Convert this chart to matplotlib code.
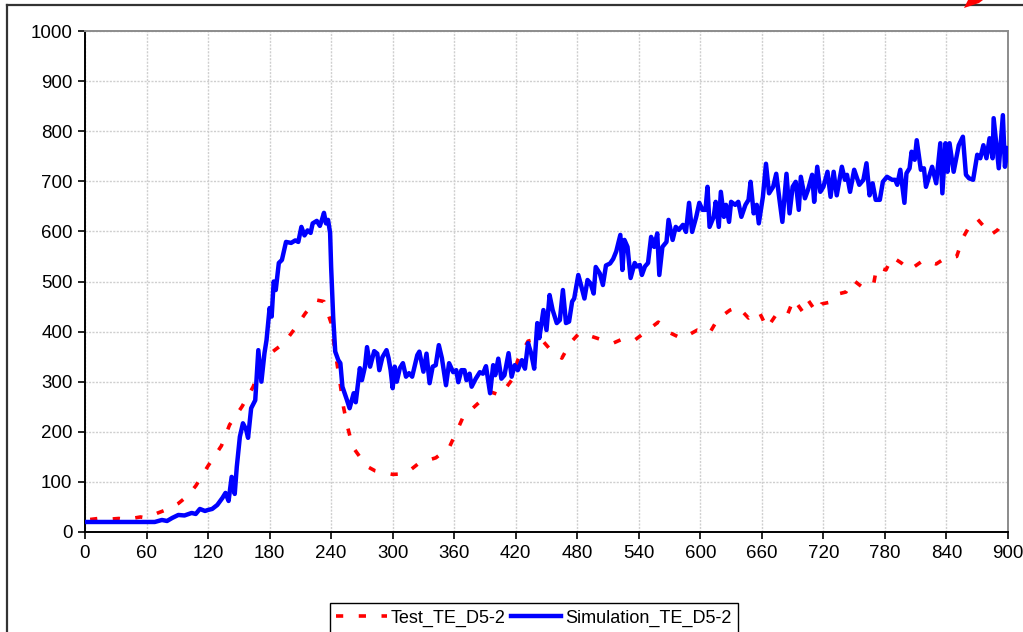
import matplotlib
matplotlib.use("Agg")
import matplotlib.pyplot as plt
from matplotlib.lines import Line2D
from matplotlib.patches import Polygon

plt.rcParams['font.family'] = ['Liberation Sans', 'DejaVu Sans']

# ---------------- data ----------------
sim_t = [0, 10, 20, 30, 40, 50, 60, 68, 75, 80, 85, 91, 97, 104, 108, 112, 117, 120, 124, 129,
         134, 137, 140, 143, 146, 148, 151, 154, 157, 159, 162, 166, 169, 172, 175, 177, 180, 182,
         184, 186, 189, 192, 196, 201, 205, 208, 211, 214, 217, 220, 222, 226, 229, 231, 233, 235,
         237, 239, 240, 242, 244, 247, 249, 251, 255, 258, 262, 264, 268, 270, 273, 275, 278, 282,
         285, 287, 290, 294, 296, 298, 300, 302, 304, 307, 310, 313, 316, 319, 324, 326, 330, 333,
         336, 339, 342, 345, 348, 352, 355, 359, 362, 364, 367, 370, 372, 375, 377, 381, 385, 388,
         391, 395, 398, 400, 403, 406, 409, 413, 416, 419, 422, 426, 429, 432, 435, 438, 441, 443,
         447, 450, 453, 456, 460, 463, 466, 469, 472, 475, 477, 481, 484, 487, 490, 493, 496, 498,
         502, 505, 508, 512, 515, 518, 522, 524, 526, 529, 532, 536, 538, 541, 543, 546, 549, 552,
         555, 558, 560, 563, 567, 569, 573, 576, 579, 583, 586, 589, 592, 596, 599, 602, 605, 607,
         609, 613, 615, 618, 620, 623, 625, 628, 630, 634, 637, 640, 644, 647, 649, 652, 655, 657,
         661, 664, 667, 671, 674, 677, 680, 684, 687, 690, 693, 696, 698, 702, 705, 709, 711, 714,
         717, 720, 724, 727, 730, 733, 738, 741, 743, 746, 750, 755, 759, 762, 765, 768, 771, 775,
         778, 782, 787, 790, 792, 795, 799, 801, 804, 806, 809, 811, 815, 818, 820, 823, 826, 830,
         834, 836, 839, 841, 843, 847, 852, 856, 859, 862, 866, 870, 873, 876, 879, 882, 885, 886,
         888, 891, 895, 897, 900]
sim_v = [20, 20, 20, 20, 20, 20, 20, 20, 24, 22, 28, 34, 33, 38, 36, 46, 42, 44, 46, 54,
         68, 78, 62, 110, 76, 130, 190, 217, 205, 188, 247, 263, 363, 300, 357, 383, 447, 430,
         500, 483, 537, 543, 579, 577, 582, 579, 609, 592, 602, 597, 616, 621, 611, 623, 637, 616,
         623, 597, 529, 429, 360, 343, 337, 290, 266, 247, 277, 259, 327, 303, 330, 369, 330, 361,
         356, 323, 349, 363, 347, 323, 287, 330, 300, 327, 337, 310, 317, 310, 353, 360, 320, 356,
         297, 330, 333, 373, 347, 293, 337, 319, 323, 299, 323, 323, 303, 316, 290, 306, 319, 316,
         331, 277, 333, 313, 346, 306, 313, 357, 310, 333, 323, 343, 326, 377, 357, 326, 417, 387,
         443, 403, 473, 443, 417, 423, 483, 417, 420, 460, 466, 513, 490, 466, 503, 496, 476, 529,
         516, 493, 532, 536, 545, 560, 593, 523, 583, 569, 507, 537, 530, 533, 513, 530, 537, 589,
         569, 596, 513, 569, 579, 623, 583, 609, 603, 613, 599, 657, 599, 629, 657, 643, 643, 689,
         609, 629, 659, 609, 679, 629, 653, 619, 659, 653, 659, 629, 653, 663, 699, 636, 653, 616,
         669, 735, 676, 689, 715, 666, 619, 715, 636, 689, 699, 643, 709, 666, 683, 713, 659, 729,
         679, 689, 719, 669, 719, 672, 729, 703, 713, 679, 723, 693, 703, 736, 672, 696, 663, 663,
         699, 709, 703, 703, 693, 723, 657, 716, 726, 759, 743, 782, 723, 726, 689, 709, 729, 696,
         776, 676, 776, 719, 776, 719, 772, 789, 713, 706, 703, 753, 746, 772, 746, 786, 746, 826,
         786, 726, 832, 729, 766]

test_t = [5, 13, 20, 33, 40, 54, 60, 71, 80, 91, 100, 108, 120, 133, 141, 153, 164, 172, 183,
          194, 205, 215, 226, 233, 240, 243, 246, 249, 252, 256, 261, 268, 274, 283, 292, 300,
          311, 318, 326, 334, 342, 355, 364, 369, 377, 385, 395, 405, 416, 422, 432, 444, 455,
          465, 473, 482, 490, 502, 515, 525, 536, 547, 559, 570, 582, 597, 609, 617, 629, 637,
          647, 657, 665, 673, 684, 691, 700, 705, 713, 718, 727, 734, 742, 749, 759, 769, 772,
          781, 787, 796, 804, 818, 830, 839, 850, 856, 862, 870, 876, 883, 890, 895, 900]
test_v = [25, 27, 25, 27, 25, 30, 28, 38, 45, 57, 72, 92, 132, 172, 214, 250, 290, 333, 360,
          377, 407, 437, 463, 460, 417, 373, 333, 293, 250, 210, 170, 150, 132, 122, 118, 115,
          116, 125, 138, 143, 148, 168, 208, 231, 245, 260, 280, 273, 303, 343, 381, 387, 361,
          347, 377, 397, 393, 385, 377, 386, 383, 400, 419, 398, 386, 403, 397, 425, 443, 449,
          427, 441, 407, 431, 429, 465, 439, 463, 439, 455, 459, 475, 479, 503, 487, 495, 529,
          523, 549, 537, 523, 543, 535, 547, 550, 587, 609, 625, 611, 593, 603, 619, 615]

x_ticks = [0, 60, 120, 180, 240, 300, 360, 420, 480, 540, 600, 660, 720, 780, 840, 900]
y_ticks = [0, 100, 200, 300, 400, 500, 600, 700, 800, 900, 1000]
series_names = ["Test_TE_D5-2", "Simulation_TE_D5-2"]

# ---------------- figure ----------------
W, H = 1023, 632
fig = plt.figure(figsize=(W / 100, H / 100), dpi=100)
fig.patch.set_facecolor('white')

# outer frame fragments
fig.add_artist(Line2D([7 / W, 1.0], [1 - 5 / H, 1 - 5 / H], color='#333333', lw=1.6,
                      transform=fig.transFigure))
fig.add_artist(Line2D([7 / W, 7 / W], [0, 1 - 5 / H], color='#333333', lw=1.6,
                      transform=fig.transFigure))
fig.add_artist(Polygon([[964 / W, 1 - 8 / H], [968 / W, 1.0], [983 / W, 1.0],
                        [979 / W, 1 - 3 / H]],
                       closed=True, facecolor='red', edgecolor='none',
                       transform=fig.transFigure, zorder=5))

ax = fig.add_axes([85 / W, (H - 532) / H, 923 / W, 501 / H])
ax.plot(test_t, test_v, color='#ff0000', lw=2.6, linestyle=(0, (2.0, 4.3)),
        label=series_names[0], zorder=3)
ax.plot(sim_t, sim_v, color='#0000ff', lw=3.2, label=series_names[1], zorder=4,
        solid_joinstyle='round')

ax.set_xlim(0, 900)
ax.set_ylim(0, 1000)
ax.set_xticks(x_ticks)
ax.set_yticks(y_ticks)
ax.tick_params(axis='both', direction='out', length=5, width=1.2, labelsize=13.5,
               colors='black', pad=4)
ax.grid(True, color='#cfcfcf', linestyle=(0, (1.5, 1)), lw=1.0)
ax.set_axisbelow(True)
for s in ['left', 'bottom']:
    ax.spines[s].set_color('black')
    ax.spines[s].set_linewidth(1.4)
for s in ['top', 'right']:
    ax.spines[s].set_color('#8c8c8c')
    ax.spines[s].set_linewidth(1.4)

leg = fig.legend(loc='upper left', bbox_to_anchor=(330 / W, 1 - 603 / H), ncol=2,
                 fontsize=13, frameon=True, fancybox=False, edgecolor='black',
                 framealpha=1, handlelength=2.8, handletextpad=0.2, columnspacing=0.3,
                 borderpad=0.35, borderaxespad=0)
leg.get_frame().set_linewidth(1.0)

fig.savefig('out.png', dpi=100)
